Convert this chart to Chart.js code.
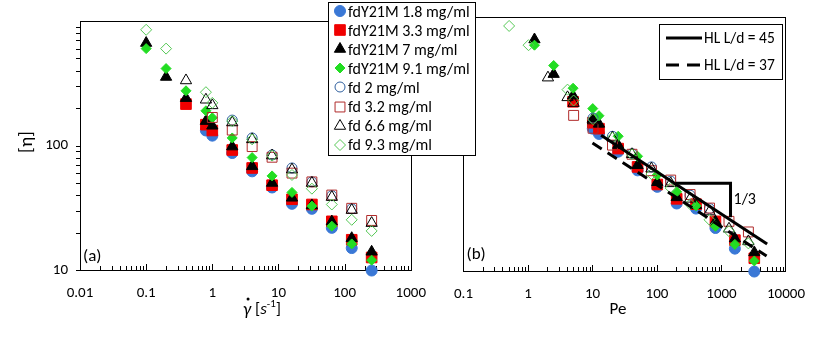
<!DOCTYPE html>
<html lang="en">
<head>
<meta charset="UTF-8">
<meta name="viewport" content="width=device-width, initial-scale=1.0">
<title>[η] vs shear rate and Pe</title>
<script src="https://cdn.jsdelivr.net/npm/chart.js"></script>
<style>
  body { margin: 0; background: #fff; }
  #page { position: relative; width: 819px; height: 361px; overflow: hidden; background: #fff; font-family: Carlito, Lato, sans-serif; color: #000; }
  .panel { position: absolute; top: 0; height: 361px; }
  #panelA { left: 0; width: 440px; }
  #panelB { left: 440px; width: 379px; }
  .legend { position: absolute; background: #fff; border: 1px solid #000; box-sizing: border-box; }
  #legendA { left: 328px; top: 2px; width: 148px; height: 154px; }
  #legendB { left: 659px; top: 24px; width: 124px; height: 56px; border-width: 1.5px; }
  .row { position: absolute; left: 0; height: 20px; display: flex; align-items: center; font-size: 16px; white-space: nowrap; }
  #legendB .row { font-size: 15.5px; }
  .row canvas { display: block; }
</style>
</head>
<body>
<div id="page">
  <div class="panel" id="panelA"><canvas id="chartA"></canvas></div>
  <div class="panel" id="panelB"><canvas id="chartB"></canvas></div>
  <div class="legend" id="legendA"></div>
  <div class="legend" id="legendB"></div>
</div>
<script>
// series names (legend order)
const seriesNames = ['fdY21M 1.8 mg/ml', 'fdY21M 3.3 mg/ml', 'fdY21M 7 mg/ml', 'fdY21M 9.1 mg/ml',
                     'fd 2 mg/ml', 'fd 3.2 mg/ml', 'fd 6.6 mg/ml', 'fd 9.3 mg/ml'];

// panel (a): shear rate [1/s] vs [eta]
const rateY18 = [0.8, 1, 2, 4, 8, 16, 32, 64, 128, 256];
const etaY18 = [132, 120, 87, 62, 46, 34, 31, 21.8, 15, 9.9];
const rateY33 = [0.4, 0.8, 1, 2, 4, 8, 16, 32, 64, 128, 256];
const etaY33 = [215, 147, 132, 92, 66, 48, 37, 33.6, 24.6, 17.5, 12.6];
const rateY7 = [0.1, 0.2, 0.4, 0.8, 1, 2, 4, 8, 16, 32, 64, 128, 256];
const etaY7 = [665, 355, 240, 157, 144, 98, 68, 50, 38, 33, 24.5, 18, 14];
const rateY91 = [0.1, 0.2, 0.4, 0.8, 1, 2, 4, 8, 16, 32, 64, 128, 256];
const etaY91 = [600, 415, 275, 190, 167, 115, 80, 57, 42, 32.6, 22.5, 16.2, 12];
const rateFd2 = [2, 4, 8, 16, 32, 64, 128];
const etaFd2 = [160, 115, 84, 66, 51, 39.5, 31];
const rateFd32 = [1, 2, 4, 8, 16, 32, 64, 128, 256];
const etaFd32 = [168, 133, 98, 80.5, 60, 51, 40, 31.3, 25];
const rateFd66 = [0.4, 0.8, 1, 2, 4, 8, 16, 32, 64, 128, 256];
const etaFd66 = [333, 233, 210, 153, 112, 83, 64, 50, 38.5, 30.3, 23.8];
const rateFd93 = [0.1, 0.2, 0.8, 1, 2, 4, 8, 16, 32, 64, 128, 256];
const etaFd93 = [850, 600, 268, 220, 157, 112, 83, 58, 45, 33.6, 25.3, 20.6];

// panel (b): Pe vs [eta]
const peY18 = [10.1, 12.6, 25, 50, 101, 202, 403, 806, 1613, 3226];
const peY33 = [5.0, 10.1, 12.6, 25, 50, 101, 202, 403, 806, 1613, 3226];
const peY7 = [1.26, 2.5, 5.0, 10.1, 12.6, 25, 50, 101, 202, 403, 806, 1613, 3226];
const peY91 = [1.26, 2.5, 5.0, 10.1, 12.6, 25, 50, 101, 202, 403, 806, 1613, 3226];
const peFd2 = [10.2, 20.4, 41, 82, 163, 326, 653];
const etaPeFd2 = [160, 115, 84, 66, 51, 39.5, 31];
const peFd32 = [5.1, 10.2, 20.4, 41, 82, 163, 326, 653, 1306, 2612];
const etaPeFd32 = [168, 133, 98, 83, 61.6, 52, 40, 31.3, 24.6, 20.3];
const peFd66 = [2.04, 4.1, 5.1, 10.2, 20.4, 41, 82, 163, 326, 653, 1306, 2612];
const etaPeFd66 = [333, 233, 210, 153, 112, 83, 64, 49, 37, 29.4, 21.5, 17.1];
const peFd93 = [0.51, 1.02, 4.1, 5.1, 10.2, 20.4, 41, 82, 163, 326, 653, 1306, 2612];
const etaPeFd93 = [850, 600, 268, 220, 157, 112, 83, 58, 45, 33.6, 25.3, 20.6, 16.5];

// Hinch-Leal lines and the slope triangle
const hlNames = ['HL L/d = 45', 'HL L/d = 37'];
const hl45Pe = [13.6, 5100];
const hl45Eta = [117, 16.3];
const hl37Pe = [10, 5000];
const hl37Eta = [102, 13.1];
const slopePe = [197, 1380, 1380];
const slopeEta = [49, 49, 26.5];
const slopeLabel = '1/3';

// axes
const rateTicks = [0.01, 0.1, 1, 10, 100, 1000];
const peTicks = [0.1, 1, 10, 100, 1000, 10000];
const etaTicks = [10, 100];
const etaRange = [10, 1000];

const FAM = 'Carlito, Lato, sans-serif';
Chart.defaults.font.family = FAM;
Chart.defaults.font.size = 15;
Chart.defaults.color = '#000';

const styles = [
  { pointStyle: 'circle', radius: 5.5, fill: '#3a78d6', stroke: '#3a78d6', width: 1 },
  { pointStyle: 'rect', radius: 7.5, fill: '#f00000', stroke: '#f00000', width: 1 },
  { pointStyle: 'triangle', radius: 6.5, fill: '#000000', stroke: '#000000', width: 1 },
  { pointStyle: 'rectRot', radius: 5, fill: '#22dd22', stroke: '#22dd22', width: 1 },
  { pointStyle: 'circle', radius: 5, fill: 'rgba(0,0,0,0)', stroke: '#2f5f9e', width: 1 },
  { pointStyle: 'rect', radius: 7, fill: 'rgba(0,0,0,0)', stroke: '#b02a2a', width: 1 },
  { pointStyle: 'triangle', radius: 6.5, fill: 'rgba(0,0,0,0)', stroke: '#000000', width: 1 },
  { pointStyle: 'rectRot', radius: 5.5, fill: 'rgba(0,0,0,0)', stroke: '#55c855', width: 1 }
];

function points(xs, ys) {
  return xs.map((x, i) => ({ x: x, y: ys[i] }));
}

function markerSet(i, xs, ys) {
  const s = styles[i];
  return {
    label: seriesNames[i], data: points(xs, ys), showLine: false,
    pointStyle: s.pointStyle, pointRadius: s.radius,
    pointBackgroundColor: s.fill, pointBorderColor: s.stroke, pointBorderWidth: s.width,
    order: 10 - i, clip: false
  };
}

function lineSet(label, xs, ys, dash) {
  return {
    label: label, data: points(xs, ys), showLine: true, fill: false,
    borderColor: '#000', borderWidth: 3, borderDash: dash, pointRadius: 0,
    order: 1, clip: false
  };
}

// box, minor tick marks and free text
const framePlugin = {
  id: 'frame',
  beforeDatasetsDraw(chart, args, opts) {
    const ctx = chart.ctx, a = chart.chartArea;
    ctx.save();
    ctx.strokeStyle = '#000';
    ctx.lineWidth = 1;
    ctx.strokeRect(Math.round(a.left) + 0.5, Math.round(a.top) + 0.5,
                   Math.round(a.right - a.left), Math.round(a.bottom - a.top));
    ctx.beginPath();
    const x = chart.scales.x;
    for (let e = Math.floor(Math.log10(x.min)); e < Math.log10(x.max); e++) {
      for (let k = 1; k <= 9; k++) {
        const v = k * Math.pow(10, e);
        if (v <= x.min * 1.0001 || v >= x.max * 0.9999) continue;
        const px = Math.round(x.getPixelForValue(v)) + 0.5;
        const len = k === 1 ? 6 : 4;
        ctx.moveTo(px, a.bottom);
        ctx.lineTo(px, a.bottom - len);
      }
    }
    if (opts.yTicks) {
      const y = chart.scales.y;
      for (let e = Math.floor(Math.log10(y.min)); e < Math.log10(y.max); e++) {
        for (let k = 1; k <= 9; k++) {
          const v = k * Math.pow(10, e);
          if (v >= y.max * 0.9999) continue;
          const py = Math.round(y.getPixelForValue(v)) + 0.5;
          ctx.moveTo(a.left, py);
          ctx.lineTo(a.left - 4, py);
        }
      }
    }
    ctx.stroke();
    ctx.restore();
  },
  afterDraw(chart, args, opts) {
    if (opts.text) {
      chart.ctx.save();
      opts.text(chart.ctx, chart);
      chart.ctx.restore();
    }
  }
};

function drawRateTitle(ctx, cx, cy) {
  const parts = [
    { t: 'γ', f: 'italic 18px ' + FAM, dy: 0 },
    { t: ' [', f: '17px ' + FAM, dy: 0 },
    { t: 's', f: 'italic 17px ' + FAM, dy: 0 },
    { t: '-1', f: '11px ' + FAM, dy: -6 },
    { t: ']', f: '17px ' + FAM, dy: 0 }
  ];
  let w = 0;
  parts.forEach(p => { ctx.font = p.f; p.w = ctx.measureText(p.t).width; w += p.w; });
  let x = cx - w / 2;
  ctx.textAlign = 'left';
  ctx.textBaseline = 'middle';
  parts.forEach((p, i) => {
    ctx.font = p.f;
    ctx.fillText(p.t, x, cy + p.dy);
    if (i === 0) {
      ctx.beginPath();
      ctx.arc(x + p.w * 0.62, cy - 11, 1.5, 0, Math.PI * 2);
      ctx.fill();
    }
    x += p.w;
  });
}

function logX(min, max, ticks, height) {
  return {
    type: 'logarithmic', min: min, max: max,
    grid: { display: false, drawTicks: false }, border: { display: false },
    afterBuildTicks: s => { s.ticks = ticks.map(v => ({ value: v })); },
    afterFit: s => { s.height = height; },
    ticks: { padding: 14, maxRotation: 0, autoSkip: false, callback: v => String(v) }
  };
}

const chartA = new Chart(document.getElementById('chartA'), {
  type: 'scatter',
  data: {
    datasets: [
      markerSet(0, rateY18, etaY18),
      markerSet(1, rateY33, etaY33),
      markerSet(2, rateY7, etaY7),
      markerSet(3, rateY91, etaY91),
      markerSet(4, rateFd2, etaFd2),
      markerSet(5, rateFd32, etaFd32),
      markerSet(6, rateFd66, etaFd66),
      markerSet(7, rateFd93, etaFd93)
    ]
  },
  options: {
    responsive: true, maintainAspectRatio: false, animation: false, events: [],
    layout: { padding: { left: 0, right: 20, top: 16, bottom: 0 } },
    scales: {
      x: logX(rateTicks[0], rateTicks[rateTicks.length - 1], rateTicks, 91),
      y: {
        type: 'logarithmic', min: etaRange[0], max: etaRange[1],
        grid: { display: false, drawTicks: false }, border: { display: false },
        afterBuildTicks: s => { s.ticks = etaTicks.map(v => ({ value: v })); },
        afterFit: s => { s.width = 80; },
        ticks: { padding: 12, callback: v => String(v) }
      }
    },
    plugins: {
      legend: { display: false }, tooltip: { enabled: false },
      frame: {
        yTicks: true,
        text: (ctx, chart) => {
          ctx.fillStyle = '#000';
          ctx.textBaseline = 'middle';
          ctx.textAlign = 'left';
          ctx.font = '17px ' + FAM;
          ctx.fillText('(a)', chart.chartArea.left + 3, 257);
          ctx.save();
          ctx.translate(27, 142);
          ctx.rotate(-Math.PI / 2);
          ctx.textAlign = 'center';
          ctx.font = '19px ' + FAM;
          ctx.fillText('[η]', 0, 0);
          ctx.restore();
          drawRateTitle(ctx, 262, 310);
        }
      }
    }
  },
  plugins: [framePlugin]
});

const chartB = new Chart(document.getElementById('chartB'), {
  type: 'scatter',
  data: {
    datasets: [
      markerSet(0, peY18, etaY18),
      markerSet(1, peY33, etaY33),
      markerSet(2, peY7, etaY7),
      markerSet(3, peY91, etaY91),
      markerSet(4, peFd2, etaPeFd2),
      markerSet(5, peFd32, etaPeFd32),
      markerSet(6, peFd66, etaPeFd66),
      markerSet(7, peFd93, etaPeFd93),
      lineSet(hlNames[0], hl45Pe, hl45Eta, []),
      lineSet(hlNames[1], hl37Pe, hl37Eta, [11, 7]),
      lineSet('slope', slopePe, slopeEta, [])
    ]
  },
  options: {
    responsive: true, maintainAspectRatio: false, animation: false, events: [],
    layout: { padding: { left: 13, right: 29, top: 17, bottom: 0 } },
    scales: {
      x: logX(peTicks[0], peTicks[peTicks.length - 1], peTicks, 90),
      y: { type: 'logarithmic', min: etaRange[0], max: etaRange[1], display: false }
    },
    plugins: {
      legend: { display: false }, tooltip: { enabled: false },
      frame: {
        yTicks: false,
        text: (ctx, chart) => {
          const x = chart.scales.x, y = chart.scales.y;
          ctx.fillStyle = '#000';
          ctx.textBaseline = 'middle';
          ctx.textAlign = 'left';
          ctx.font = '17px ' + FAM;
          ctx.fillText('(b)', chart.chartArea.left + 3, 255);
          ctx.font = '16px ' + FAM;
          ctx.fillText(slopeLabel, x.getPixelForValue(slopePe[1]) + 3,
                       (y.getPixelForValue(slopeEta[0]) + y.getPixelForValue(slopeEta[2])) / 2);
          ctx.textAlign = 'center';
          ctx.font = '17px ' + FAM;
          ctx.fillText('Pe', 178, 310);
        }
      }
    }
  },
  plugins: [framePlugin]
});

// legends
function drawMarker(ctx, s, x, y) {
  ctx.fillStyle = s.fill;
  ctx.strokeStyle = s.stroke;
  ctx.lineWidth = s.width;
  Chart.helpers.drawPoint(ctx, { pointStyle: s.pointStyle, radius: s.radius, rotation: 0, borderWidth: s.width }, x, y);
}

const legendA = document.getElementById('legendA');
seriesNames.forEach((name, i) => {
  const row = document.createElement('div');
  row.className = 'row';
  row.style.top = (-2 + i * 19.1) + 'px';
  const c = document.createElement('canvas');
  c.width = 16; c.height = 16;
  c.style.marginLeft = '3px';
  drawMarker(c.getContext('2d'), styles[i], 8, 8);
  const span = document.createElement('span');
  span.textContent = name;
  row.append(c, span);
  legendA.appendChild(row);
});

const legendB = document.getElementById('legendB');
hlNames.forEach((name, i) => {
  const row = document.createElement('div');
  row.className = 'row';
  row.style.top = (2.5 + i * 27) + 'px';
  const c = document.createElement('canvas');
  c.width = 42; c.height = 10;
  c.style.marginLeft = '2px';
  const g = c.getContext('2d');
  g.strokeStyle = '#000';
  g.lineWidth = 3;
  g.setLineDash(i === 0 ? [] : [13, 8]);
  g.beginPath();
  g.moveTo(4, 5);
  g.lineTo(i === 0 ? 40 : 38, 5);
  g.stroke();
  const span = document.createElement('span');
  span.textContent = name;
  row.append(c, span);
  legendB.appendChild(row);
});
</script>
</body>
</html>
